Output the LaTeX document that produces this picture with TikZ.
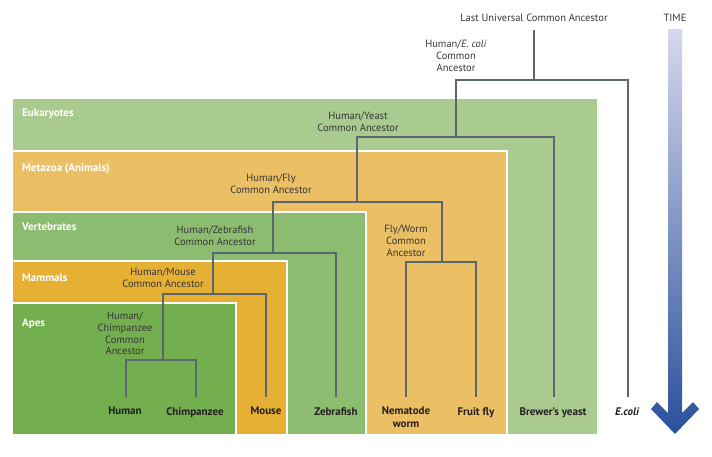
\documentclass[tikz,border=0pt]{standalone}
\usepackage{fontspec}
\setmainfont{PT Sans}
\usetikzlibrary{calc}
\definecolor{euk}{HTML}{A9CB8F}
\definecolor{meta}{HTML}{EBBF63}
\definecolor{vert}{HTML}{8BBC6F}
\definecolor{mamm}{HTML}{E5B034}
\definecolor{apes}{HTML}{73AF4F}
\definecolor{branchc}{HTML}{5B6770}
\definecolor{anctext}{HTML}{363636}
\definecolor{leaftext}{HTML}{231F20}
\definecolor{timetop}{HTML}{D6D8EC}
\definecolor{timebot}{HTML}{2A509C}
\tikzset{
  groupbox/.style={draw=white, line width=1.2pt},
  grouplabel/.style={anchor=west, text=white, font=\bfseries\fontsize{11}{12}\selectfont, inner sep=0pt},
  anclabel/.style={align=center, text=anctext, font=\fontsize{10.5}{11.7}\selectfont, inner sep=0pt},
  leaflabel/.style={anchor=north, align=center, text=leaftext, font=\bfseries\fontsize{11}{12.5}\selectfont, inner sep=0pt},
  branch/.style={draw=branchc, line width=2.6pt, line join=miter},
}
\begin{document}
\begin{tikzpicture}[x=1pt,y=-1pt]
\useasboundingbox (0,0) rectangle (712,456);
% group boxes
\path[groupbox, fill=euk]  (12,98)  rectangle (598,435);
\path[groupbox, fill=meta] (12,151) rectangle (507,435);
\path[groupbox, fill=vert] (12,212) rectangle (366,435);
\path[groupbox, fill=mamm] (12,261) rectangle (287,435);
\path[groupbox, fill=apes] (12,303) rectangle (236,435);
\node[grouplabel] (gEuk)  at (22,113.5) {Eukaryotes};
\node[grouplabel] (gMeta) at (22,168.5) {Metazoa (Animals)};
\node[grouplabel] (gVert) at (22,226.5) {Vertebrates};
\node[grouplabel] (gMamm) at (22,277.5) {Mammals};
\node[grouplabel] (gApes) at (22,323.5) {Apes};
% junctions and leaf tops
\coordinate (lucaTop) at (534,30);
\coordinate (luca) at (534,80);
\coordinate (hy) at (456,137);
\coordinate (hf) at (357,202);
\coordinate (fw) at (442,262);
\coordinate (hz) at (273,253);
\coordinate (hm) at (213,294);
\coordinate (hc) at (163,360);
\coordinate (human) at (126,397);
\coordinate (chimp) at (196,397);
\coordinate (mouse) at (266,397);
\coordinate (zebra) at (336,397);
\coordinate (worm) at (406,397);
\coordinate (fly) at (476,397);
\coordinate (yeast) at (554,397);
\coordinate (ecoli) at (628,397);
% branches
\draw[branch] (lucaTop) -- (luca);
\draw[branch] (hy) |- (luca) -| (ecoli);
\draw[branch] (hf) |- (hy) -| (yeast);
\draw[branch] (hz) |- (hf) -| (fw);
\draw[branch] (worm) |- (fw) -| (fly);
\draw[branch] (hm) |- (hz) -| (zebra);
\draw[branch] (hc) |- (hm) -| (mouse);
\draw[branch] (human) |- (hc) -| (chimp);
% ancestor labels
\node[anclabel] (tLuca) at (534,18) {Last Universal Common Ancestor};
\node[anclabel] (tEcoli) at (456,56) {Human/\textit{E. coli}\\Common\\Ancestor};
\node[anclabel] (tYeast) at (358,121.5) {Human/Yeast\\Common Ancestor};
\node[anclabel] (tFly) at (271,183.5) {Human/Fly\\Common Ancestor};
\node[anclabel] (tZebra) at (215,235.5) {Human/Zebrafish\\Common Ancestor};
\node[anclabel] (tMouse) at (163,277.5) {Human/Mouse\\Common Ancestor};
\node[anclabel] (tChimp) at (125,333.5) {Human/\\Chimpanzee\\Common\\Ancestor};
\node[anclabel] (tFW) at (406,241) {Fly/Worm\\Common\\Ancestor};
% leaf labels
\node[leaflabel] (lHuman) at (125,407) {Human};
\node[leaflabel] (lChimp) at (195,407) {Chimpanzee};
\node[leaflabel] (lMouse) at (266,407) {Mouse};
\node[leaflabel] (lZebra) at (336,407) {Zebrafish};
\node[leaflabel] (lWorm) at (406,407) {Nematode\\worm};
\node[leaflabel] (lFly) at (476,407) {Fruit fly};
\node[leaflabel] (lYeast) at (553,407) {Brewer's yeast};
\node[leaflabel] (lEcoli) at (627,407) {\itshape E.coli};
% time arrow
\node[anclabel] (tTime) at (675,18) {TIME};
\shade[top color=timetop, bottom color=timebot]
  (668,29) -- (668,413) -- (657,402) -- (651,409) -- (675,434) -- (699,409)
  -- (693,402) -- (682,413) -- (682,29) -- cycle;
\end{tikzpicture}
\end{document}
